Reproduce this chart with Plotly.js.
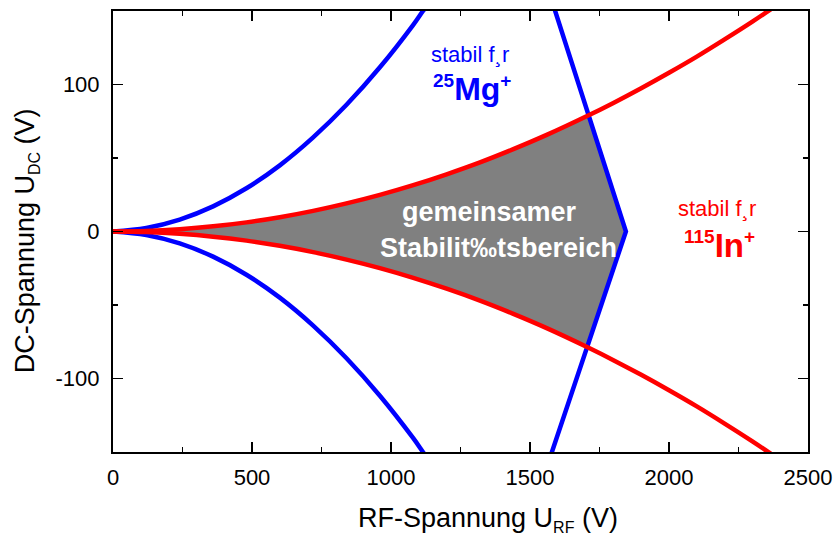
<!DOCTYPE html>
<html>
<head>
<meta charset="utf-8">
<script src="https://cdn.plot.ly/plotly-3.0.1.min.js"></script>
<style>html,body{margin:0;padding:0;background:#fff;}#chart{width:838px;height:537px;}</style>
</head>
<body>
<div id="chart"></div>
<script>
// 25Mg+ stability boundary (parabolic edges)
const mgUpperX = [0, 120, 240, 360, 480, 600, 720, 840, 960, 1080, 1115, 1130];
const mgUpperY = [0, 2.4, 8.1, 17.1, 29.4, 45, 64, 86.2, 111.7, 140.6, 150, 153.6];
const mgLowerX = [0, 120, 240, 360, 480, 600, 720, 840, 960, 1080, 1115, 1130];
const mgLowerY = [0, -2.4, -8.1, -17.1, -29.4, -45, -64, -86.2, -111.7, -140.6, -150, -153.6];
// 25Mg+ stability boundary (right edge)
const mgRightX = [1582, 1845, 1570];
const mgRightY = [155, 0, -155];
// 115In+ stability boundary
const inUpperX = [0, 120, 240, 360, 480, 600, 720, 840, 960, 1080, 1200, 1320, 1440, 1560, 1709, 1800, 1900, 2000, 2100, 2200, 2300, 2400];
const inUpperY = [0, 0.4, 1.6, 3.5, 6.2, 9.7, 14, 19.1, 24.9, 31.5, 38.9, 47, 56, 65.7, 78.9, 87.5, 97.5, 108, 119, 130.7, 142.8, 155.5];
const inLowerX = inUpperX.slice();
const inLowerY = [0, -0.4, -1.6, -3.5, -6.2, -9.7, -14, -19.1, -24.9, -31.5, -38.9, -47, -56, -65.7, -78.9, -87.5, -97.5, -108, -119, -130.7, -142.8, -155.5];
// common stability region: In+ boundary up to the Mg+ edge, apex on the Mg+ edge
const sharedX = [0, 120, 240, 360, 480, 600, 720, 840, 960, 1080, 1200, 1320, 1440, 1560, 1709];
const sharedTop = [0, 0.4, 1.6, 3.5, 6.2, 9.7, 14, 19.1, 24.9, 31.5, 38.9, 47, 56, 65.7, 78.9];
const vertex = [1845, 0];
// tick labels
const xTickVals = [0, 500, 1000, 1500, 2000, 2500];
const xTickText = ['0', '500', '1000', '1500', '2000', '2500'];
const yTickVals = [-100, 0, 100];
const yTickText = ['-100', '0', '100'];

const regionX = sharedX.concat([vertex[0]], sharedX.slice().reverse());
const regionY = sharedTop.concat([vertex[1]], sharedTop.map(v => -v).reverse());

const blue = '#0000ff', red = '#ff0000';
const curve = (c) => ({color: c, width: 4.5, shape: 'spline', smoothing: 1});
const traces = [
  {x: regionX, y: regionY, fill: 'toself', fillcolor: '#808080', mode: 'none', type: 'scatter', hoverinfo: 'skip'},
  {x: mgUpperX, y: mgUpperY, mode: 'lines', line: curve(blue)},
  {x: mgLowerX, y: mgLowerY, mode: 'lines', line: curve(blue)},
  {x: mgRightX, y: mgRightY, mode: 'lines', line: {color: blue, width: 4.5}},
  {x: inUpperX, y: inUpperY, mode: 'lines', line: curve(red)},
  {x: inLowerX, y: inLowerY, mode: 'lines', line: curve(red)}
];

const font = 'Liberation Sans, Arial, Helvetica, sans-serif';
const axisCommon = {
  showgrid: false, zeroline: false, showline: true, linecolor: '#000', linewidth: 2,
  mirror: 'ticks', ticks: 'inside', ticklen: 10, tickwidth: 1.5, tickcolor: '#000',
  tickfont: {family: font, size: 22, color: '#000'}
};
const layout = {
  width: 838, height: 537,
  margin: {l: 113, r: 30, t: 11, b: 85},
  showlegend: false,
  plot_bgcolor: '#fff', paper_bgcolor: '#fff',
  xaxis: Object.assign({}, axisCommon, {
    range: [0, 2500], tickvals: xTickVals, ticktext: xTickText, ticklabelstandoff: 5,
    minor: {ticks: 'inside', dtick: 250, ticklen: 5, tickcolor: '#000', tickwidth: 1.5}
  }),
  yaxis: Object.assign({}, axisCommon, {
    range: [-150, 150], tickvals: yTickVals, ticktext: yTickText, ticklabelstandoff: 7,
    minor: {ticks: 'inside', tickvals: [-150, -50, 50, 150], ticklen: 5, tickcolor: '#000', tickwidth: 1.5}
  }),
  annotations: [
    {xref: 'paper', yref: 'paper', x: 0.54, y: -0.152, xanchor: 'center', yanchor: 'middle',
     text: 'RF-Spannung U<sub><span style="font-size:16px">RF</span></sub> (V)', showarrow: false, font: {family: font, size: 27, color: '#000'}},
    {xref: 'paper', yref: 'paper', x: -0.124, y: 0.48, xanchor: 'center', yanchor: 'middle', textangle: -90,
     text: 'DC-Spannung U<sub><span style="font-size:16px">DC</span></sub> (V)', showarrow: false, font: {family: font, size: 27, color: '#000'}},
    {x: 1284, y: 120, text: 'stabil f¸r', showarrow: false, font: {family: font, size: 22, color: blue}},
    {x: 1291, y: 97, text: '<b><sup><span style="font-size:19px">25</span></sup>Mg<sup><span style="font-size:19px">+</span></sup></b>', showarrow: false, font: {family: font, size: 32, color: blue}},
    {x: 2173, y: 15, text: 'stabil f¸r', showarrow: false, font: {family: font, size: 22, color: red}},
    {x: 2183, y: -9.5, text: '<b><sup><span style="font-size:19px">115</span></sup>In<sup><span style="font-size:19px">+</span></sup></b>', showarrow: false, font: {family: font, size: 33, color: red}},
    {x: 1356, y: 13.6, text: '<b>gemeinsamer</b>', showarrow: false, font: {family: font, size: 27, color: '#fff'}},
    {x: 1388, y: -10.9, text: '<b>Stabilit‰tsbereich</b>', showarrow: false, font: {family: font, size: 27, color: '#fff'}}
  ]
};
Plotly.newPlot('chart', traces, layout, {staticPlot: true});
</script>
</body>
</html>
